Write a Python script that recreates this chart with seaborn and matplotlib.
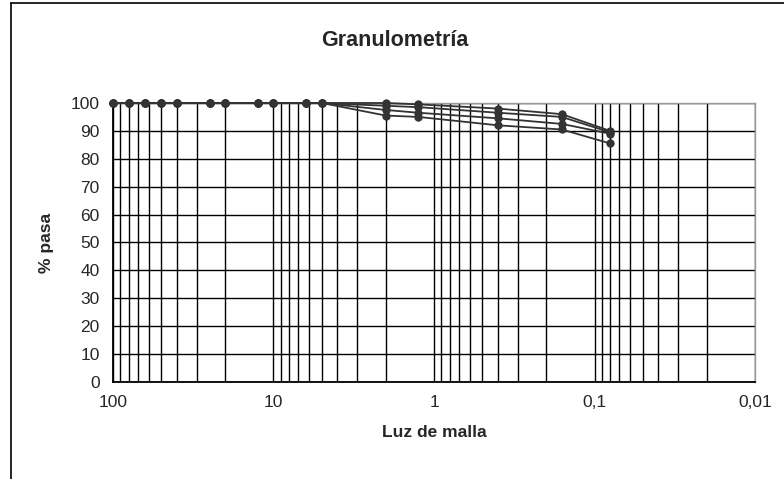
import matplotlib
matplotlib.use("Agg")
import matplotlib.pyplot as plt
import matplotlib.ticker as mticker
import numpy as np
import pandas as pd
import seaborn as sns

# Sieve openings (mm) and % passing for each sample
sieves = [100, 80, 63, 50, 40, 25, 20, 12.5, 10, 6.3, 5, 2, 1.25, 0.4, 0.16, 0.08]
sample_1 = [100, 100, 100, 100, 100, 100, 100, 100, 100, 100, 100, 100, 99.5, 98, 96, 90]
sample_2 = [100, 100, 100, 100, 100, 100, 100, 100, 100, 100, 100, 99, 98.5, 96.5, 95, 89.5]
sample_3 = [100, 100, 100, 100, 100, 100, 100, 100, 100, 100, 100, 97.5, 96.5, 94.5, 92.5, 89]
sample_4 = [100, 100, 100, 100, 100, 100, 100, 100, 100, 100, 100, 95.5, 95, 92, 90.5, 85.5]

x_ticks = [100, 10, 1, 0.1, 0.01]
x_labels = ["100", "10", "1", "0,1", "0,01"]
y_ticks = list(range(0, 101, 10))

df = pd.concat([
    pd.DataFrame({"luz": sieves, "pasa": vals, "muestra": name})
    for name, vals in [("M1", sample_1), ("M2", sample_2), ("M3", sample_3), ("M4", sample_4)]
])

sns.set_style("white")
plt.rcParams["font.family"] = ["Liberation Sans", "DejaVu Sans"]

fig = plt.figure(figsize=(7.84, 4.79), dpi=100)
ax = fig.add_axes([0.1441, 0.2025, 0.819, 0.5825])

sns.lineplot(data=df, x="luz", y="pasa", hue="muestra", palette=["#333333"] * 4,
             marker="o", markersize=6, markeredgewidth=0, linewidth=1.3,
             legend=False, ax=ax, sort=False, estimator=None)
for line in ax.lines:
    line.set_clip_on(False)
    line.set_zorder(3)

ax.set_xscale("log")
ax.set_xlim(100, 0.01)
ax.set_ylim(0, 100)
ax.set_xticks(x_ticks)
ax.set_xticklabels(x_labels)
ax.xaxis.set_minor_locator(mticker.LogLocator(base=10, subs=np.arange(2, 10)))
ax.xaxis.set_minor_formatter(mticker.NullFormatter())
ax.set_yticks(y_ticks)

ax.grid(True, which="both", axis="x", color="black", linewidth=1)
ax.grid(True, which="major", axis="y", color="black", linewidth=1)
ax.set_axisbelow(True)

ax.tick_params(axis="both", which="major", direction="inout", length=7, width=1,
               color="black", labelsize=12.5, pad=6)
ax.tick_params(axis="x", which="minor", length=0)

for side in ["left", "bottom"]:
    ax.spines[side].set_color("black")
    ax.spines[side].set_linewidth(1.3)
for side in ["top", "right"]:
    ax.spines[side].set_color("#999999")
    ax.spines[side].set_linewidth(1)

ax.set_xlabel("Luz de malla", fontsize=12.5, fontweight="bold", labelpad=11)
ax.set_ylabel("% pasa", fontsize=12.5, fontweight="bold", labelpad=12)
fig.text(0.504, 0.915, "Granulometría", ha="center", va="center",
         fontsize=15.5, fontweight="bold")

# frame of the chart area (left and top edges)
fig.add_artist(plt.Line2D([0.014, 0.014], [0, 0.994], color="black", linewidth=1.2,
                          transform=fig.transFigure))
fig.add_artist(plt.Line2D([0.014, 1.0], [0.994, 0.994], color="black", linewidth=1.2,
                          transform=fig.transFigure))

fig.savefig("out.png", dpi=100)
